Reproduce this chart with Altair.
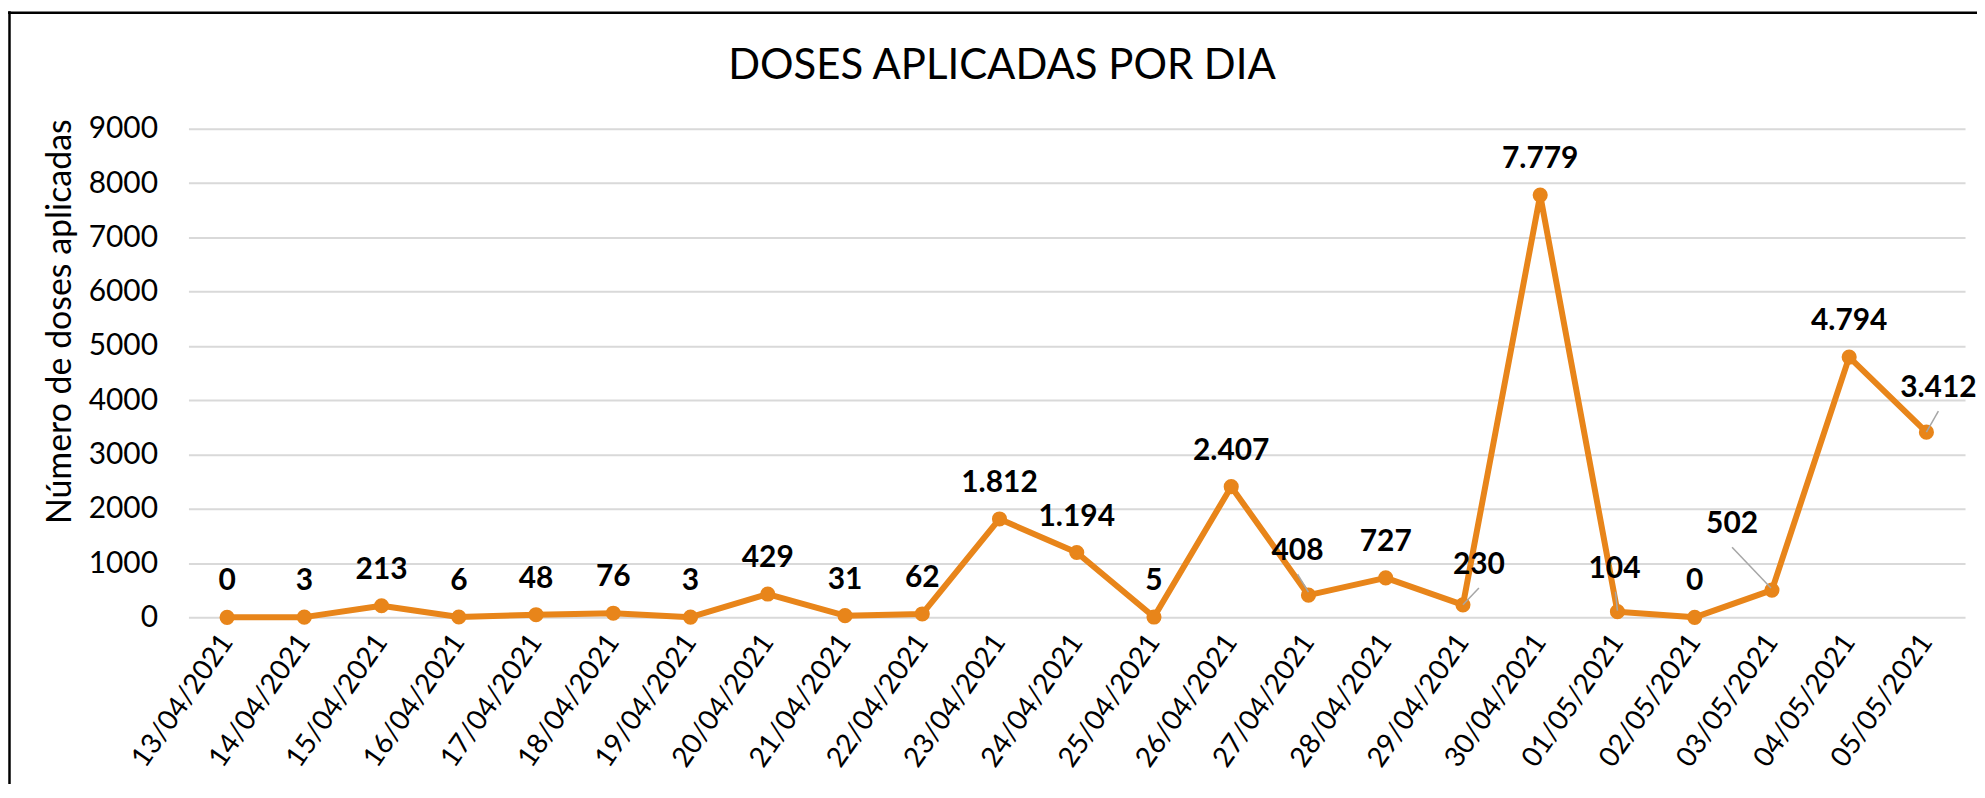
import altair as alt
import pandas as pd

# ---- data ----
datas = ["13/04/2021", "14/04/2021", "15/04/2021", "16/04/2021", "17/04/2021",
         "18/04/2021", "19/04/2021", "20/04/2021", "21/04/2021", "22/04/2021",
         "23/04/2021", "24/04/2021", "25/04/2021", "26/04/2021", "27/04/2021",
         "28/04/2021", "29/04/2021", "30/04/2021", "01/05/2021", "02/05/2021",
         "03/05/2021", "04/05/2021", "05/05/2021"]
doses = [0, 3, 213, 6, 48, 76, 3, 429, 31, 62, 1812, 1194, 5, 2407, 408,
         727, 230, 7779, 104, 0, 502, 4794, 3412]
rotulos = [f"{v:,}".replace(",", ".") for v in doses]
y_ticks = list(range(0, 9001, 1000))

df = pd.DataFrame({"data": datas, "doses": doses, "rotulo": rotulos})

ORANGE = "#E8851A"
FONT = "Lato"
W, H = 1782, 490

# label placement (pixel offsets): label dx, dy, leader start (x, y), leader end (x, y)
special = {
    "27/04/2021": (-11, -44, -11, -21, 0, -3),
    "29/04/2021": (16, -40, 16, -17, 0, 0),
    "01/05/2021": (-3, -43, -2, -20, 0, -1),
    "03/05/2021": (-40, -66, -40, -43, -1, -2),
    "05/05/2021": (12, -44, 12, -21, 0, 0),
}

x_enc = alt.X(
    "data:N", sort=datas,
    scale=alt.Scale(type="point", padding=0.5),
    axis=alt.Axis(title=None, labelAngle=305, labelAlign="right",
                  labelBaseline="middle", labelPadding=20, labelFontSize=28,
                  labelFont=FONT, labelColor="black", domain=False,
                  ticks=False, grid=False, labelOverlap=False),
)
y_enc = alt.Y(
    "doses:Q",
    scale=alt.Scale(domain=[0, 9000], nice=False),
    axis=alt.Axis(values=y_ticks, format="d", title="Número de doses aplicadas",
                  titleFont=FONT, titleFontSize=34, titleFontWeight="normal",
                  titleColor="black", titleAngle=270, titleAlign="center",
                  titleBaseline="middle", titleX=-128, titleY=193,
                  labelFont=FONT, labelFontSize=30, labelColor="black",
                  labelPadding=31, domain=False, ticks=False,
                  gridColor="#D9D9D9", gridWidth=2),
)

base = alt.Chart(df).encode(x=x_enc, y=y_enc)

line = base.mark_line(color=ORANGE, strokeWidth=6, strokeJoin="round")
pts = base.mark_circle(color=ORANGE, size=230, opacity=1)

special_list = ",".join(f"'{d}'" for d in special)
std_text = base.transform_filter(
    f"indexof([{special_list}], datum.data) < 0"
).mark_text(font=FONT, fontSize=30, fontWeight="bold", color="black",
            dy=-36, baseline="middle").encode(text="rotulo:N")

layers = [line, pts]
texts = [std_text]
for d, (dx, dy, sx, sy, ex, ey) in special.items():
    sub = base.transform_filter(alt.datum.data == d)
    layers.append(
        sub.mark_rule(color="#A6A6A6", strokeWidth=1.5,
                      xOffset=sx, yOffset=sy, x2Offset=ex, y2Offset=ey)
        .encode(x2=alt.X2("data:N"), y2=alt.Y2("doses:Q"))
    )
    texts.append(
        sub.mark_text(font=FONT, fontSize=30, fontWeight="bold", color="black",
                      dx=dx, dy=dy, baseline="middle").encode(text="rotulo:N")
    )

frame = pd.DataFrame({"k": [0]})
top_border = alt.Chart(frame).mark_rule(color="black", strokeWidth=2.5).encode(
    x=alt.value(-181), x2=alt.value(W + 20), y=alt.value(-116.5))
left_border = alt.Chart(frame).mark_rule(color="black", strokeWidth=2.5).encode(
    x=alt.value(-179.5), y=alt.value(-118), y2=alt.value(H + 200))

chart = alt.layer(*layers, *texts, top_border, left_border).properties(
    width=W, height=H,
    title=alt.TitleParams(text="DOSES APLICADAS POR DIA", font=FONT, fontSize=42,
                          fontWeight="normal", color="black", anchor="middle",
                          frame="group", dx=-75, offset=20, dy=98),
    padding={"left": 181, "top": 120, "right": 12, "bottom": 166},
    autosize=alt.AutoSizeParams(type="none"),
    background="white",
).configure_view(stroke=None)

chart.save("out.html", embed_options={"renderer": "svg", "actions": False})
